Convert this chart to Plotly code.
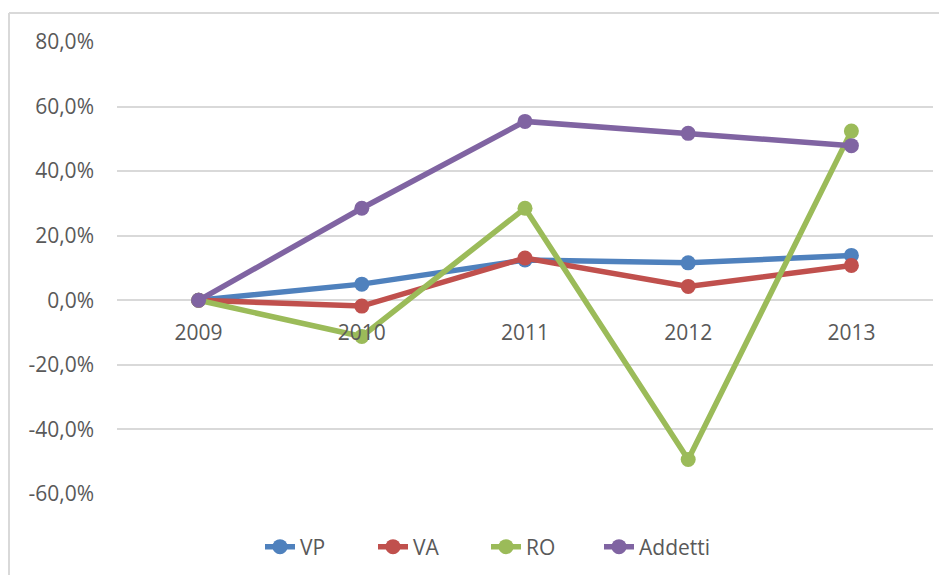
import plotly.graph_objects as go

years = ["2009", "2010", "2011", "2012", "2013"]
vp = [0.0, 5.0, 12.5, 11.6, 13.9]
va = [0.0, -1.8, 13.1, 4.3, 10.8]
ro = [0.0, -11.2, 28.5, -49.3, 52.4]
addetti = [0.0, 28.5, 55.4, 51.7, 47.9]

series = [("VP", vp, "#4F81BD"), ("VA", va, "#C0504D"), ("RO", ro, "#9BBB59"), ("Addetti", addetti, "#8064A2")]
ytick_vals = [-60, -40, -20, 0, 20, 40, 60, 80]
ytick_text = [f"{v:.1f}%".replace(".", ",") for v in ytick_vals]

fig = go.Figure()
for name, vals, col in series:
    fig.add_trace(go.Scatter(x=years, y=vals, name=name, mode="lines+markers",
                             line=dict(color=col, width=5.5),
                             marker=dict(color=col, size=15)))

OFF = 8  # page body margin
W, H = 947 - OFF, 575 - OFF
L, R, T, B = 117 - OFF, 14, 42 - OFF, 81
pw, ph = W - L - R, H - T - B
font = "Open Sans, Roboto, sans-serif"
gray = "#595959"
grid = "#D9D9D9"

def px_x(x):
    return (x - OFF - L) / pw

def px_y(y):
    return (H - B - (y - OFF)) / ph

fig.update_layout(
    width=W, height=H,
    margin=dict(l=L, r=R, t=T, b=B, autoexpand=False),
    paper_bgcolor="white", plot_bgcolor="white",
    separators=",.",
    font=dict(family=font, size=21, color=gray),
    showlegend=True,
    legend=dict(orientation="h", x=px_x(486), xanchor="center",
                y=px_y(547), yanchor="middle",
                font=dict(size=21, color=gray),
                entrywidth=68, entrywidthmode="pixels",
                traceorder="normal"),
    xaxis=dict(type="category", range=[-0.5, 4.5], anchor="free",
               position=60 / 140, showgrid=False, showline=False,
               ticks="", ticklabelstandoff=18, automargin=False,
               tickfont=dict(size=21, color=gray)),
    yaxis=dict(range=[-60, 80], tickvals=ytick_vals, ticktext=ytick_text,
               showgrid=True, gridcolor=grid, gridwidth=1.5,
               zeroline=True, zerolinecolor=grid, zerolinewidth=1.5,
               showline=False, ticks="", ticklabelstandoff=22, automargin=False,
               tickfont=dict(size=21, color=gray)),
    shapes=[
        dict(type="line", xref="paper", yref="paper",
             x0=px_x(9), x1=px_x(960),
             y0=px_y(13), y1=px_y(13),
             line=dict(color=grid, width=2)),
        dict(type="line", xref="paper", yref="paper",
             x0=px_x(9), x1=px_x(9),
             y0=px_y(13), y1=px_y(590),
             line=dict(color=grid, width=2)),
    ],
)

fig.write_html("out.html", config={"displayModeBar": False})
